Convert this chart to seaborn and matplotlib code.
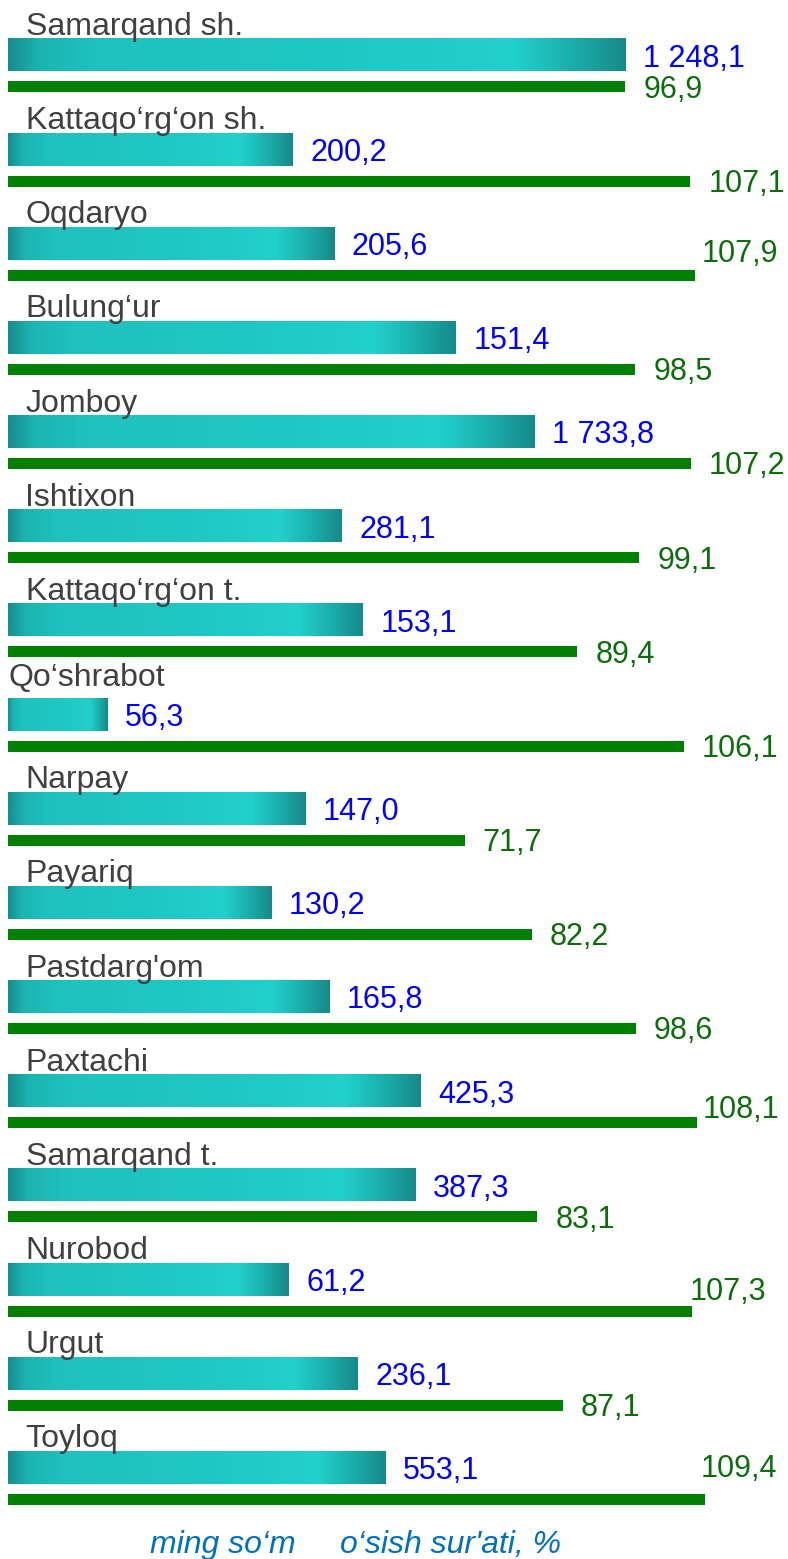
import numpy as np
import pandas as pd
import matplotlib
matplotlib.use("Agg")
import matplotlib.pyplot as plt
from matplotlib.colors import LinearSegmentedColormap
import seaborn as sns

# ------ Dados ------ #
regions = ["Samarqand sh.", "Kattaqo‘rg‘on sh.", "Oqdaryo", "Bulung‘ur", "Jomboy",
           "Ishtixon", "Kattaqo‘rg‘on t.", "Qo‘shrabot", "Narpay", "Payariq",
           "Pastdarg'om", "Paxtachi", "Samarqand t.", "Nurobod", "Urgut", "Toyloq"]
ming_som = [1248.1, 200.2, 205.6, 151.4, 1733.8, 281.1, 153.1, 56.3,
            147.0, 130.2, 165.8, 425.3, 387.3, 61.2, 236.1, 553.1]
# teal bar lengths as drawn in the picture (not proportional to ming_som)
bar_len = [97.0, 44.7, 51.2, 70.3, 82.6, 52.4, 55.7, 15.6,
           46.7, 41.3, 50.4, 64.8, 63.9, 44.1, 54.9, 59.3]
osish = [96.9, 107.1, 107.9, 98.5, 107.2, 99.1, 89.4, 106.1,
         71.7, 82.2, 98.6, 108.1, 83.1, 107.3, 87.1, 109.4]

# ------ Layout ------ #
PX_X = 6.37     # pixels per x unit
PX_Y = 94.16    # pixels per row
W, H = 788, 1559
green_off = 0.337
teal_h = 0.345
green_h = 0.117
# label shifts in pixels (dx, baseline dy from bar centre)
green_shift = {2: (6, -13), 11: (6, -5), 13: (-1.5, -10.7), 15: (-4, -22.7)}
name_shift = {7: (8, 12.6)}

def fmt(v):
    return f"{v:,.1f}".replace(",", " ").replace(".", ",")

sns.set_style("white")
plt.rcParams["font.family"] = ["Liberation Sans", "DejaVu Sans"]

fig = plt.figure(figsize=(W / 100, H / 100), dpi=100)
ax = fig.add_axes([0, 0, 1, 1])

pos = np.arange(len(regions), dtype=float)
df = pd.DataFrame({"region": regions, "pos": pos, "len": bar_len,
                   "gpos": pos + green_off, "osish": osish})

# teal bars
sns.barplot(data=df, x="len", y="pos", orient="h", native_scale=True,
            width=teal_h, color="#1ec6c2", saturation=1, errorbar=None,
            linewidth=0, ax=ax)
teal_patches = list(ax.patches)

cmap = LinearSegmentedColormap.from_list("teal", [
    (0.0, "#168e8e"), (0.05, "#1cb4b1"), (0.14, "#1ec1bd"), (0.55, "#1fc8c4"),
    (0.82, "#22d0cc"), (0.91, "#1bb0ad"), (1.0, "#168a8a")])
grad = np.linspace(0, 1, 256).reshape(1, -1)
for p in teal_patches:
    bb = p.get_bbox()
    ax.imshow(grad, extent=(bb.x0, bb.x1, bb.y1, bb.y0), aspect="auto",
              cmap=cmap, interpolation="bilinear", zorder=2)
    p.set_facecolor("none")

# green bars
sns.barplot(data=df, x="osish", y="gpos", orient="h", native_scale=True,
            width=green_h, color="#008000", saturation=1, errorbar=None,
            linewidth=0, ax=ax)

# text labels
for i in range(len(regions)):
    nx, ngap = name_shift.get(i, (25.5, 4))
    ax.text((nx - 8) / PX_X, i - teal_h / 2 - ngap / PX_Y, regions[i],
            fontsize=23, color="#404040", va="baseline", ha="left", zorder=5)
    ax.text(bar_len[i] + 17.5 / PX_X, i + 11.5 / PX_Y, fmt(ming_som[i]),
            fontsize=22, color="#0000ff", va="baseline", ha="left", zorder=5)
    dx, dy = green_shift.get(i, (18, 10.8))
    ax.text(osish[i] + dx / PX_X, i + green_off + dy / PX_Y, fmt(osish[i]),
            fontsize=22, color="#0b6e0b", va="baseline", ha="left", zorder=5)

# legend texts at the bottom
yb = (1553 - 55.25) / PX_Y
ax.text((150 - 8) / PX_X, yb, "ming so‘m", fontsize=23, style="italic",
        color="#0070c0", va="baseline", ha="left")
ax.text((340 - 8) / PX_X, yb, "o‘sish sur'ati, %", fontsize=23, style="italic",
        color="#0070c0", va="baseline", ha="left")

ax.set_xlim(-8 / PX_X, (W - 8) / PX_X)
ax.set_ylim((H - 55.25) / PX_Y, -55.25 / PX_Y)
ax.set_axis_off()

fig.savefig("out.png", dpi=100)
